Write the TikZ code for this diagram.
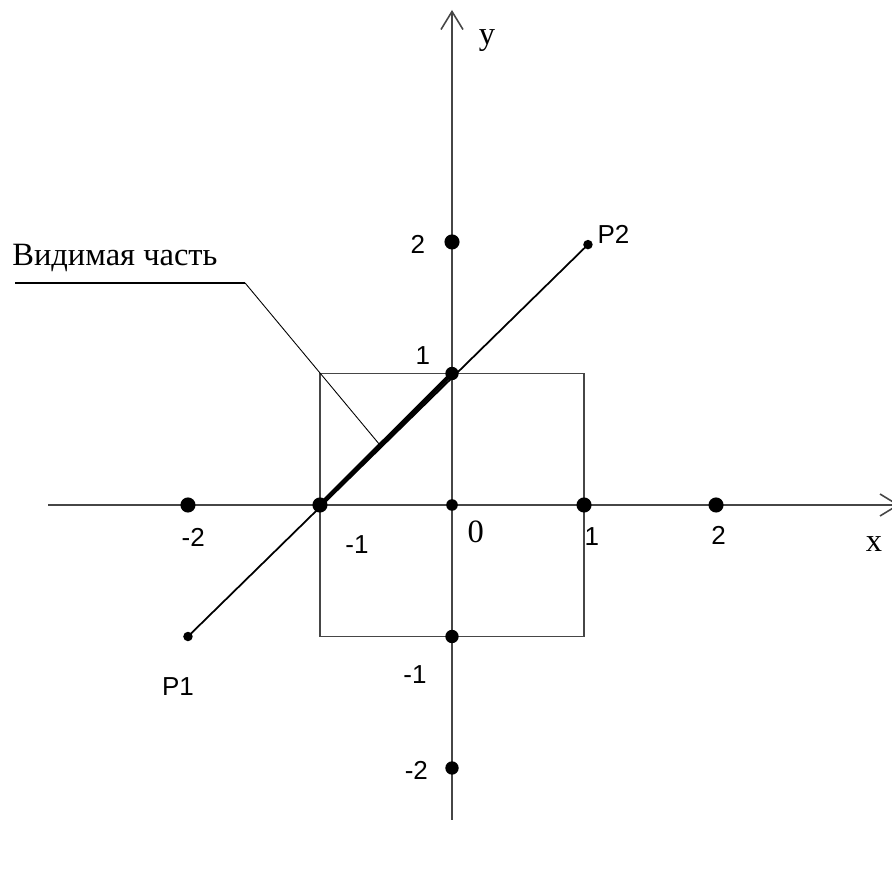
\documentclass[tikz,border=0pt]{standalone}
\usepackage{fontspec}
\setmainfont{Liberation Serif}
\newfontfamily\arialfont{Liberation Sans}
\usetikzlibrary{arrows.meta}

\begin{document}
\begin{tikzpicture}[x=2.64cm,y=2.63cm,>={Straight Barb[length=0.36cm,width=0.44cm]},
  axisline/.style={gray!55!black,line width=0.9pt},
  numlabel/.style={font=\arialfont\fontsize{14.8}{17}\selectfont,inner sep=0pt},
  serlabel/.style={font=\fontsize{18.5}{21}\selectfont,inner sep=0pt}]
  \useasboundingbox (-3.424,-2.897) rectangle (3.333,3.840);
  % axes
  \draw[axisline,->] (-3.06,0) -- (3.39,0);
  \draw[axisline,->] (0,-2.395) -- (0,3.764);
  \node[serlabel] (xname) at (3.197,-0.295) {x};
  \node[serlabel] (yname) at (0.265,3.53) {y};
  % clipping window
  \draw[axisline] (-1,-1) rectangle (1,1);
  % segment and its visible part
  \coordinate (P1) at (-2,-1);
  \coordinate (P2) at (1.03,1.98);
  \coordinate (A) at (-1,0);
  \coordinate (B) at (0,1);
  \draw[line width=1pt] (P1) -- (P2);
  \draw[line width=2.4pt] (A) -- (B);
  \path (A) -- (B) coordinate[pos=0.455] (lead);
  % dots
  \foreach \p in {(-2,0),(-1,0),(1,0),(2,0),(0,2)}
    \fill \p circle (4.3pt);
  \foreach \p in {(0,1),(0,-1),(0,-2)}
    \fill \p circle (3.8pt);
  \fill (0,0) circle (3.3pt);
  \fill (P1) circle (2.7pt);
  \fill (P2) circle (2.7pt);
  % tick labels
  \node[serlabel] (zero) at (0.18,-0.205) {0};
  \node[numlabel] (xm2) at (-1.96,-0.25) {-2};
  \node[numlabel] (xm1) at (-0.72,-0.30) {-1};
  \node[numlabel] (xp1) at (1.06,-0.24) {1};
  \node[numlabel] (xp2) at (2.02,-0.23) {2};
  \node[numlabel] (yp2) at (-0.258,1.985) {2};
  \node[numlabel] (yp1) at (-0.22,1.136) {1};
  \node[numlabel] (ym1) at (-0.28,-1.29) {-1};
  \node[numlabel] (ym2) at (-0.27,-2.02) {-2};
  \node[numlabel] (p1name) at (-2.076,-1.38) {P1};
  \node[numlabel,anchor=west] (p2name) at (1.10,2.06) {P2};
  % leader to the visible part
  \node[serlabel,anchor=base west] (visname) at (-3.333,1.818) {Видимая часть};
  \coordinate (bend) at (-1.568,1.689);
  \draw[line width=0.9pt] (-3.31,1.689) -- (bend);
  \draw[line width=0.5pt] (bend) -- (lead);
\end{tikzpicture}
\end{document}
